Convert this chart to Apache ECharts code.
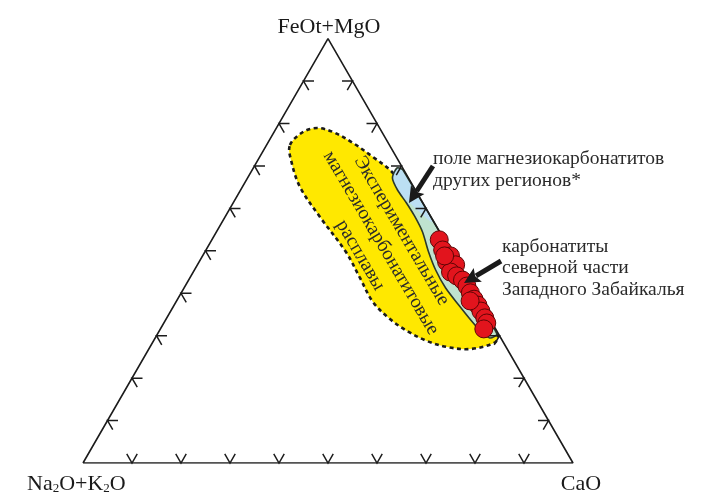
<!DOCTYPE html>
<html>
<head>
<meta charset="utf-8">
<script src="https://cdn.jsdelivr.net/npm/echarts@6/dist/echarts.min.js"></script>
<style>html,body{margin:0;padding:0;background:#fff}#c{width:720px;height:502px}</style>
</head>
<body>
<div id="c"></div>
<script>
// ---- Ternary diagram data (percent). Na2O+K2O = 100 - CaO - (FeOt+MgO) ----
const vertexTop = 'FeOt+MgO';
const vertexLeft = 'Na{s|2}O+K{s|2}O';
const vertexRight = 'CaO';
const tickValues = [10, 20, 30, 40, 50, 60, 70, 80, 90];

// Carbonatites of the northern part of Western Transbaikalia (red circles)
const carbCaO  = [46.4, 48.3, 50.5, 50.6, 52.7, 52.5, 54.2, 55.9, 57.5, 59.0, 60.5, 62.0, 63.3, 64.9, 65.9, 66.0, 49.4, 59.9];
const carbFeMg = [52.6, 50.2, 47.4, 48.8, 46.7, 45.0, 44.1, 43.1, 41.7, 40.1, 38.6, 37.2, 35.8, 34.2, 33.0, 31.6, 48.8, 38.2];

// Experimental magnesiocarbonatite melts (yellow field boundary)
const expCaO  = [4.77, 5.90, 8.29, 12.02, 17.39, 23.12, 28.13, 31.58, 36.30, 39.99, 43.39, 46.91, 50.75, 54.91, 58.93, 63.03, 66.92, 69.73, 69.74, 65.55, 60.62, 55.83, 50.57, 45.68, 40.21, 34.73, 28.81, 19.38, 11.77, 6.75];
const expFeMg = [74.94, 78.00, 78.94, 78.00, 75.41, 72.11, 69.05, 66.22, 61.27, 57.97, 54.44, 50.67, 46.66, 42.42, 38.88, 35.58, 32.28, 29.93, 28.28, 26.86, 27.34, 28.75, 31.11, 33.93, 37.94, 43.60, 49.72, 57.97, 65.04, 71.40];

// Field of magnesiocarbonatites of other regions (outer, green)
const fieldCaO  = [29.32, 30.79, 69.20, 68.27, 65.29, 62.28, 58.06, 53.39, 49.23, 45.67, 42.07, 38.55, 35.38, 32.02, 29.57];
const fieldFeMg = [69.52, 69.05, 30.50, 29.46, 31.34, 33.70, 37.23, 41.24, 45.48, 49.72, 54.44, 58.21, 61.27, 64.33, 67.16];
// upper (blue) part of that field
const blueCaO  = [29.32, 30.79, 42.91, 34.39, 32.02, 29.57];
const blueFeMg = [69.52, 69.05, 56.79, 62.45, 64.33, 67.16];

// Annotation arrows: [CaO, FeOt+MgO] of start and tip
const arrowStartCaO = [36.43, 61.51];
const arrowStartFeMg = [69.99, 47.60];
const arrowTipCaO = [35.89, 56.55];
const arrowTipFeMg = [61.27, 42.42];

// ---- helpers ----
const H = Math.sqrt(3) / 2;
function toXY(cao, femg) { return [cao + femg / 2, femg * H]; }
function pts(cs, fs) { return cs.map((c, i) => toXY(c, fs[i])); }

const FONT = '"Liberation Serif", "Times New Roman", serif';

function polySeries(points, style, z, smooth) {
  return {
    type: 'custom', coordinateSystem: 'cartesian2d', silent: true, z: z,
    data: points,
    renderItem: function (params, api) {
      if (params.dataIndex !== 0) return null;
      return { type: 'polygon', shape: { points: points.map(p => api.coord(p)), smooth: smooth || 0 }, style: style };
    }
  };
}

const triangle = [toXY(0, 0), toXY(100, 0), toXY(0, 100), toXY(0, 0)];

// tick data: position + inward normal angle
const tickData = [];
tickValues.forEach(v => {
  tickData.push(toXY(v, 0).concat([90]));        // bottom side
  tickData.push(toXY(0, v).concat([-30]));       // left side
  tickData.push(toXY(100 - v, v).concat([210])); // right side
});

const arrowData = arrowStartCaO.map((c, i) => {
  const a = toXY(c, arrowStartFeMg[i]);
  const b = toXY(arrowTipCaO[i], arrowTipFeMg[i]);
  return [a[0], a[1], b[0], b[1]];
});

const chart = echarts.init(document.getElementById('c'), null, { renderer: 'canvas' });
const gridH = 490 * H;
chart.setOption({
  animation: false,
  backgroundColor: '#ffffff',
  grid: { left: 83, top: 463 - gridH, width: 490, height: gridH, containLabel: false },
  xAxis: { type: 'value', min: 0, max: 100, show: false },
  yAxis: { type: 'value', min: 0, max: 100 * H, show: false },
  series: [
    polySeries(pts(expCaO, expFeMg), { fill: '#ffe800', stroke: '#1a1a1a', lineWidth: 2.6, lineDash: [4, 3.5] }, 2, 0.35),
    polySeries(pts(fieldCaO, fieldFeMg), { fill: '#bfe3cf', stroke: null }, 3, 0.25),
    polySeries(pts(blueCaO, blueFeMg), { fill: '#bcdff3', stroke: null }, 4, 0.25),
    polySeries(pts(fieldCaO, fieldFeMg), { fill: null, stroke: '#2b3a2b', lineWidth: 1.6 }, 5, 0.25),
    {
      type: 'line', data: triangle, symbol: 'none', z: 6, silent: true,
      lineStyle: { color: '#1c1c1c', width: 1.6 }
    },
    {
      type: 'custom', coordinateSystem: 'cartesian2d', silent: true, z: 6,
      data: tickData,
      encode: { x: 0, y: 1 },
      renderItem: function (params, api) {
        const p = api.coord([api.value(0), api.value(1)]);
        const n = api.value(2);
        const L = 10.5;
        const a1 = (n + 30) * Math.PI / 180, a2 = (n - 30) * Math.PI / 180;
        return {
          type: 'polyline',
          shape: { points: [[p[0] + L * Math.cos(a1), p[1] - L * Math.sin(a1)], p, [p[0] + L * Math.cos(a2), p[1] - L * Math.sin(a2)]] },
          style: { stroke: '#1c1c1c', lineWidth: 1.5, fill: null }
        };
      }
    },
    {
      type: 'scatter', z: 8, silent: true,
      data: pts(carbCaO, carbFeMg),
      symbol: 'circle', symbolSize: 18,
      itemStyle: { color: '#e2141d', borderColor: '#5e0505', borderWidth: 1, opacity: 1 }
    },
    {
      type: 'custom', coordinateSystem: 'cartesian2d', silent: true, z: 9,
      data: arrowData,
      encode: { x: [0, 2], y: [1, 3] },
      renderItem: function (params, api) {
        const a = api.coord([api.value(0), api.value(1)]);
        const b = api.coord([api.value(2), api.value(3)]);
        const dx = b[0] - a[0], dy = b[1] - a[1];
        const len = Math.sqrt(dx * dx + dy * dy);
        const ux = dx / len, uy = dy / len, nx = -uy, ny = ux;
        const hl = 16, hw = 8;
        const base = [b[0] - ux * hl, b[1] - uy * hl];
        return {
          type: 'group',
          children: [
            { type: 'line', shape: { x1: a[0], y1: a[1], x2: base[0] + ux * 2, y2: base[1] + uy * 2 }, style: { stroke: '#1a1a1a', lineWidth: 5 } },
            { type: 'polygon', shape: { points: [b, [base[0] + nx * hw, base[1] + ny * hw], [base[0] + ux * 3, base[1] + uy * 3], [base[0] - nx * hw, base[1] - ny * hw]] }, style: { fill: '#1a1a1a' } }
          ]
        };
      }
    }
  ],
  graphic: [
    { type: 'text', x: 329, y: 27, style: { text: vertexTop, fontSize: 22, fontFamily: FONT, fill: '#1a1a1a', align: 'center', verticalAlign: 'middle' } },
    { type: 'text', x: 581, y: 484, style: { text: vertexRight, fontSize: 22, fontFamily: FONT, fill: '#1a1a1a', align: 'center', verticalAlign: 'middle' } },
    { type: 'text', x: 27, y: 484, style: { text: vertexLeft, fontSize: 22, fontFamily: FONT, fill: '#1a1a1a', align: 'left', verticalAlign: 'middle',
        rich: { s: { fontSize: 13, fontFamily: FONT, fill: '#1a1a1a', padding: [10, 0, 0, 0] } } } },
    { type: 'text', x: 433, y: 170, style: { text: 'поле магнезиокарбонатитов\nдругих регионов*', fontSize: 19.5, lineHeight: 22, fontFamily: FONT, fill: '#2a2a2a', align: 'left', verticalAlign: 'middle' } },
    { type: 'text', x: 502, y: 268, style: { text: 'карбонатиты\nсеверной части\nЗападного Забайкалья', fontSize: 19.5, lineHeight: 21.5, fontFamily: FONT, fill: '#2a2a2a', align: 'left', verticalAlign: 'middle' } },
    { type: 'text', x: 381, y: 243, rotation: -59.5 * Math.PI / 180, z: 10,
      style: { text: 'Экспериментальные\nмагнезиокарбонатитовые\nрасплавы', fontSize: 19.5, lineHeight: 24, fontFamily: FONT, fill: '#2a2a2a', align: 'center', verticalAlign: 'middle' } }
  ]
});
</script>
</body>
</html>
